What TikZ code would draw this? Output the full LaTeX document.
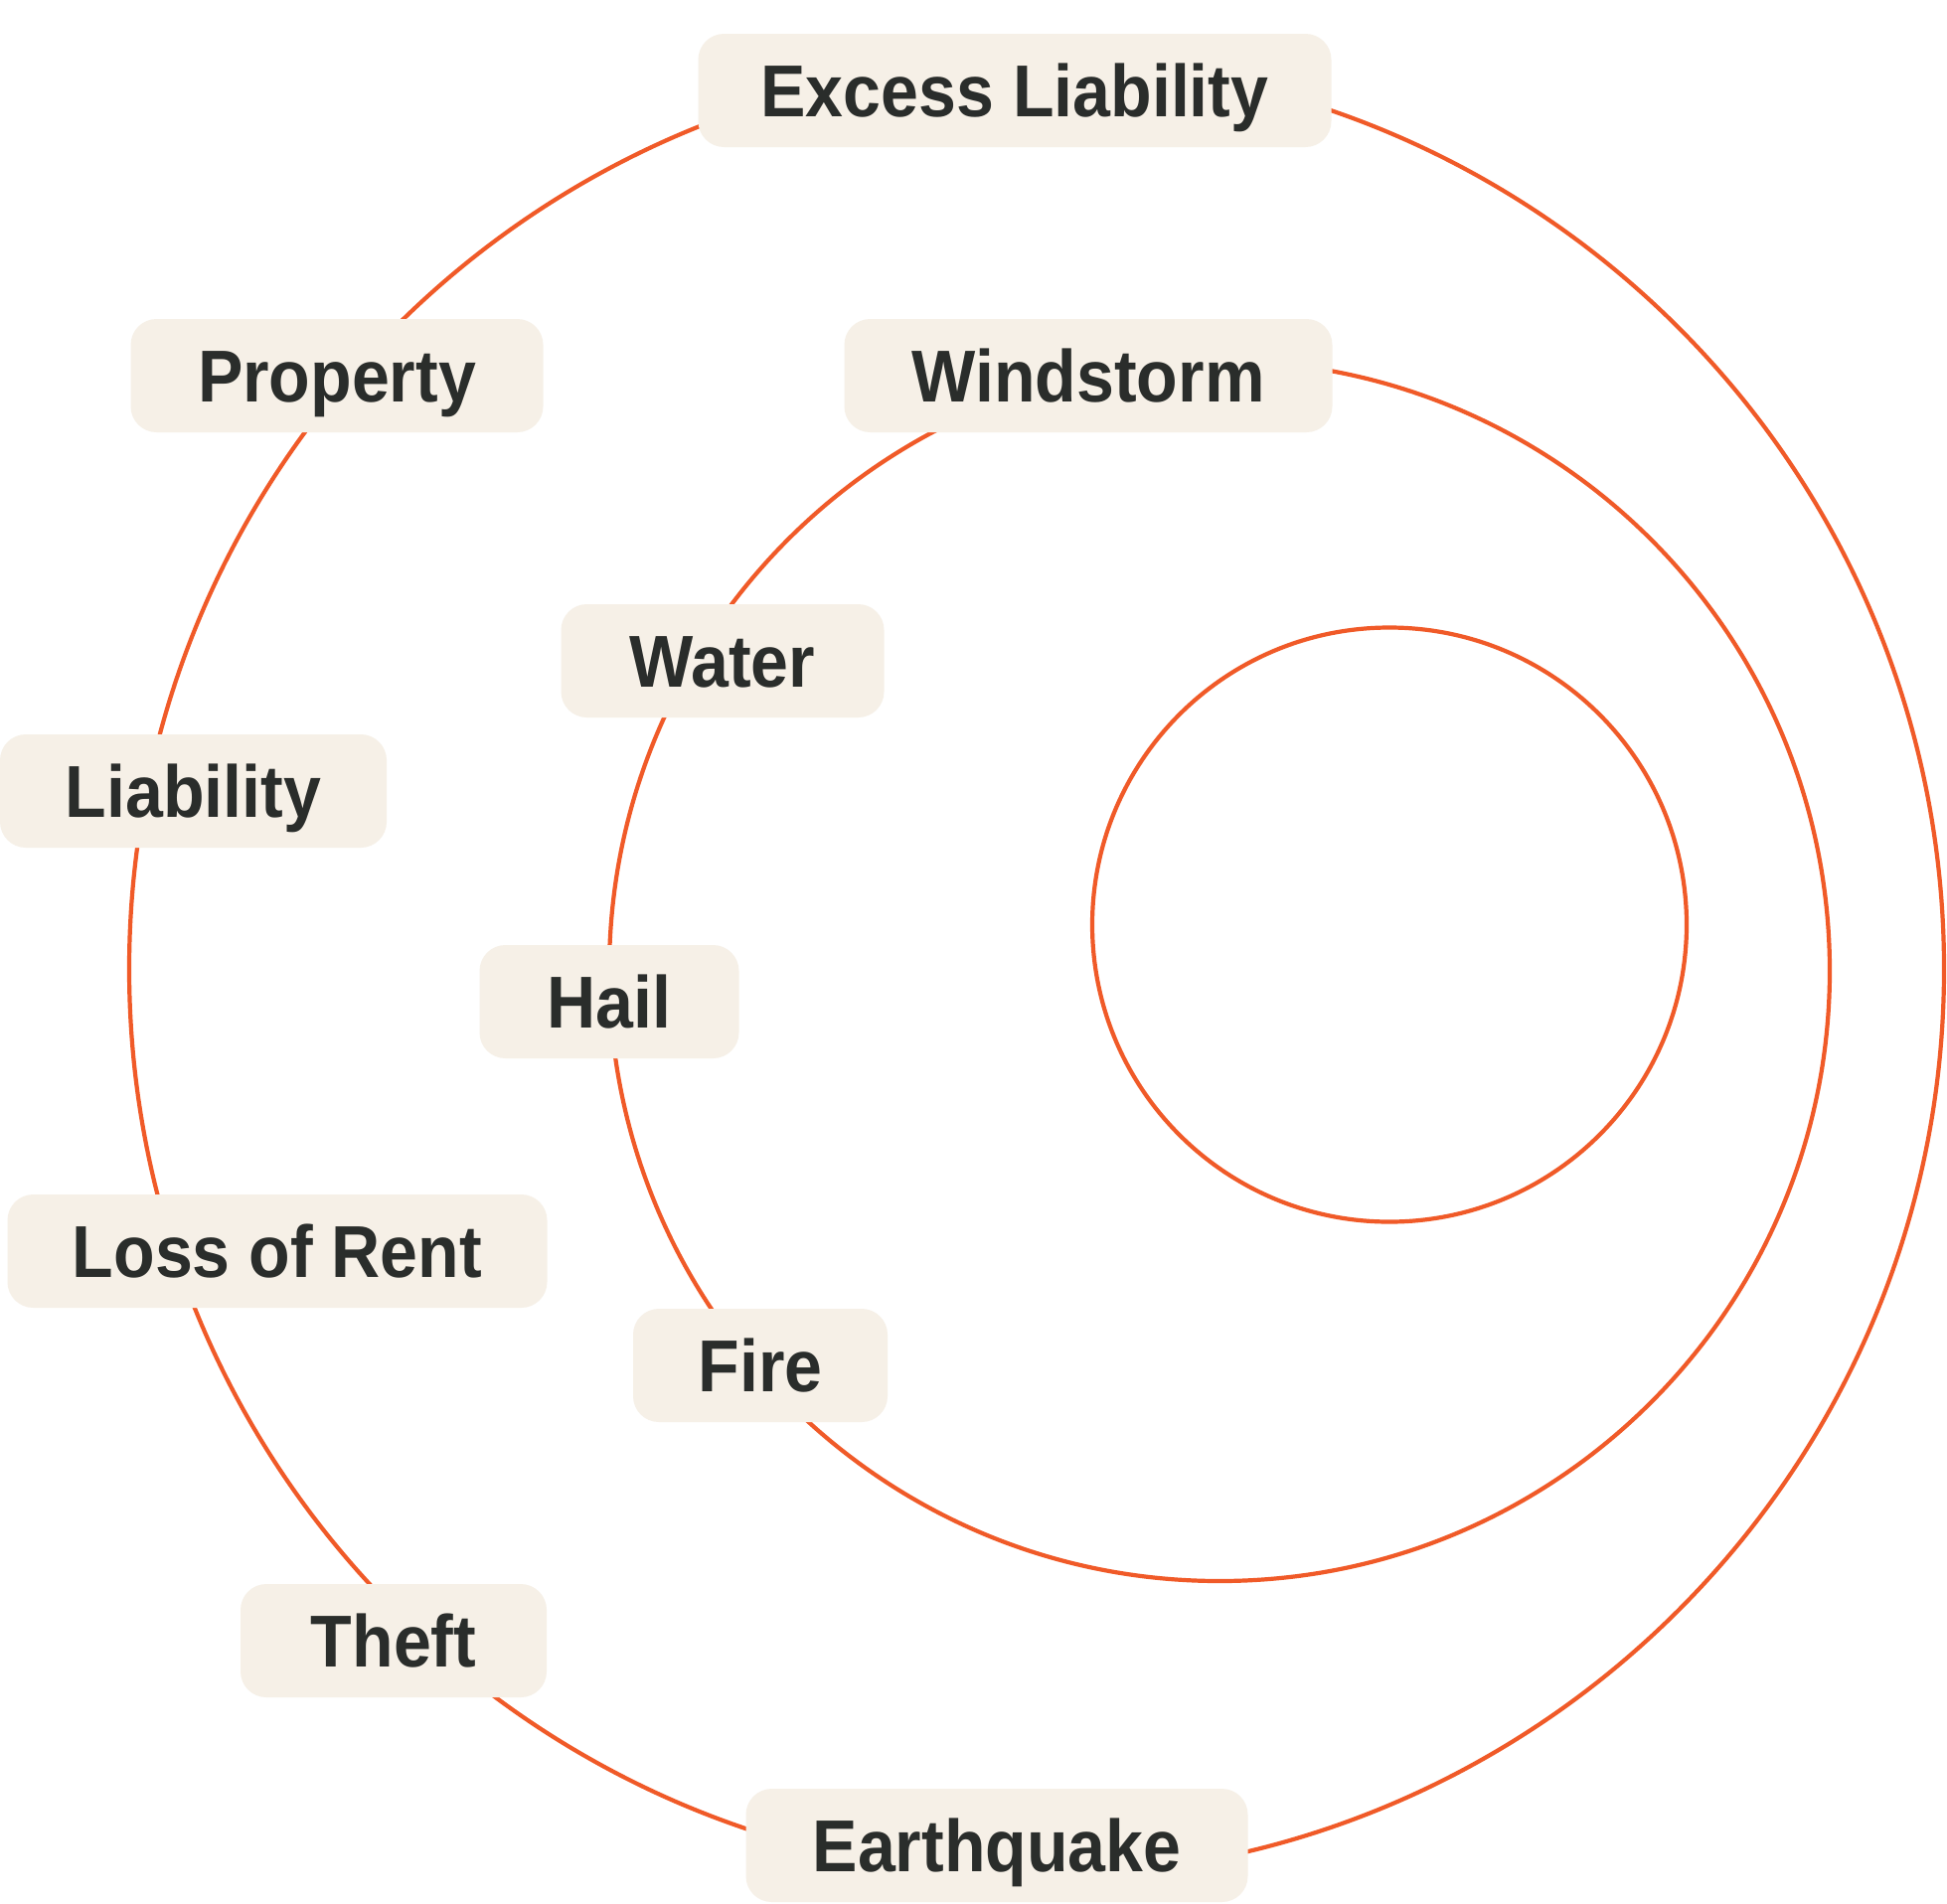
\documentclass[tikz,border=0pt]{standalone}
\usepackage{fontspec}
\setmainfont[FakeStretch=0.92]{Liberation Sans}
\definecolor{ringc}{HTML}{F05A28}
\definecolor{tagbg}{HTML}{F6F0E7}
\definecolor{ink}{HTML}{2A2D2B}
\begin{document}
\begin{tikzpicture}[x=1pt,y=-1pt,
  ring/.style={draw=ringc, line width=4.2pt},
  tag/.style={fill=tagbg, rounded corners=26pt, minimum height=114pt, inner sep=0pt,
    text=ink, text height=53pt, text depth=0pt,
    font=\fontsize{74}{80}\selectfont\bfseries}]
\useasboundingbox[fill=white] (0,0) rectangle (1959,1915);
% rings
\draw[ring] (1043,975) circle[radius=913pt];
\draw[ring] (1227,977) circle[radius=614pt];
\draw[ring] (1398,930.5) circle[radius=299pt];
% outer ring labels
\node[tag, minimum width=637pt] (excess) at (1021,91) {Excess Liability};
\node[tag, minimum width=415pt] (property) at (339,378) {Property};
\node[tag, minimum width=389pt] (liability) at (194.5,796) {Liability};
\node[tag, minimum width=543pt] (rent) at (279,1259) {Loss of Rent};
\node[tag, minimum width=308pt] (theft) at (396,1651) {Theft};
\node[tag, minimum width=505pt] (quake) at (1003,1857) {Earthquake};
% middle ring labels
\node[tag, minimum width=491pt] (wind) at (1095,378) {Windstorm};
\node[tag, minimum width=325pt] (water) at (727,665) {Water};
\node[tag, minimum width=261pt] (hail) at (613,1008) {Hail};
\node[tag, minimum width=256pt] (fire) at (765,1374) {Fire};
\end{tikzpicture}
\end{document}
